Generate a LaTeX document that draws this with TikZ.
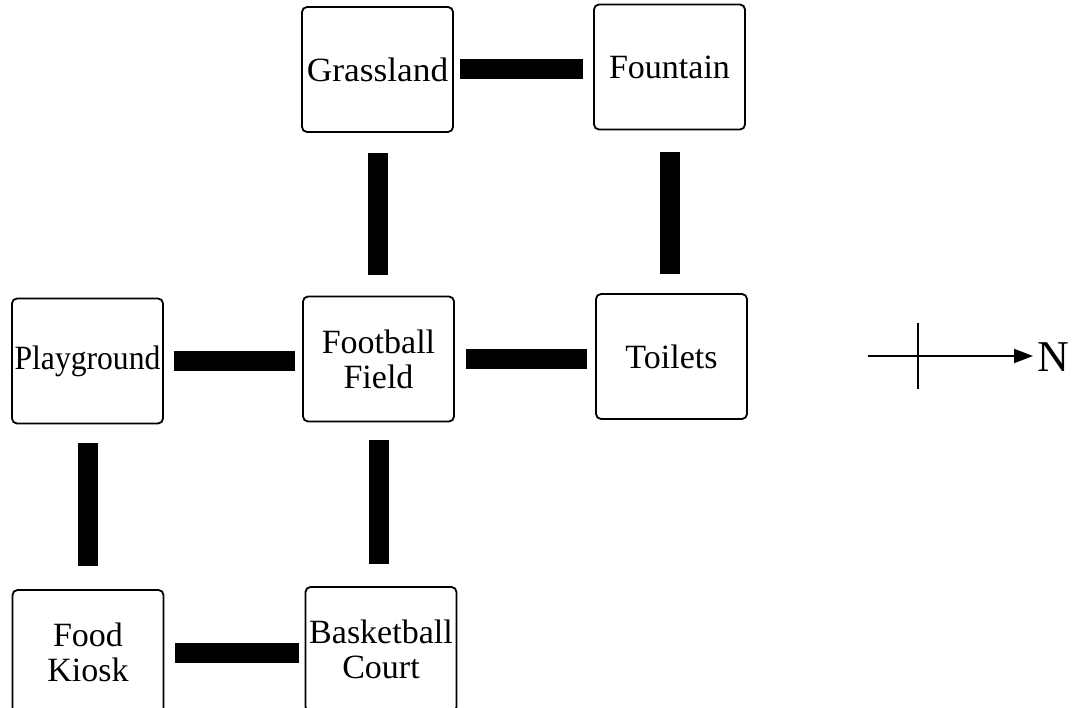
\documentclass[tikz,border=0pt]{standalone}
\usepackage{fontspec}
\setmainfont{Liberation Serif}
\usetikzlibrary{arrows.meta}
\tikzset{
  place/.style={draw, line width=1.8pt, rounded corners=5pt, minimum width=151pt, minimum height=125pt, inner sep=0pt, align=center, font=\fontsize{34}{35}\selectfont},
  bar/.style={line width=20pt},
  thin/.style={line width=2pt}
}
\begin{document}
\begin{tikzpicture}[x=1pt,y=-1pt]
\useasboundingbox (0,0) rectangle (1078,708);
\clip (0,0) rectangle (1078,708);
\node[place] (grass) at (377.5,69.5) {\scalebox{1.04}[1]{Grassland}};
\node[place] (fount) at (669.5,67) {Fountain};
\node[place] (play) at (87.5,361) {\scalebox{0.93}[1]{Playground}};
\node[place] (foot) at (378.5,359) {Football\\Field};
\node[place] (toil) at (671.5,356.5) {Toilets};
\node[place] (food) at (88,652.5) {Food\\Kiosk};
\node[place] (bask) at (381,649.5) {Basketball\\Court};
% connectors
\draw[bar, shorten <=6pt, shorten >=10pt] (grass.east) -- (grass.east -| fount.west);
\draw[bar, shorten <=20pt, shorten >=21pt] (grass.south) -- (grass.south |- foot.north);
\draw[bar, shorten <=22pt, shorten >=19pt] (fount.south) -- (fount.south |- toil.north);
\draw[bar, shorten <=10pt, shorten >=7pt] (play.east) -- (play.east -| foot.west);
\draw[bar, shorten <=11pt, shorten >=8pt] (foot.east) -- (foot.east -| toil.west);
\draw[bar, shorten <=19pt, shorten >=23pt] (play.south) -- (play.south |- food.north);
\draw[bar, shorten <=18pt, shorten >=22pt] (foot.south) -- (foot.south |- bask.north);
\draw[bar, shorten <=11pt, shorten >=6pt] (food.east) -- (food.east -| bask.west);
% compass
\coordinate (cw) at (868,356);
\coordinate (ce) at (1033,356);
\coordinate (ct) at (918,323);
\coordinate (cb) at (918,389);
\draw[thin, -{Triangle[length=19pt,width=14pt]}] (cw) -- (ce);
\draw[thin] (ct) -- (cb);
\node[font=\fontsize{44}{44}\selectfont, inner sep=0pt, anchor=west] (north) at (1037,357) {N};
\end{tikzpicture}
\end{document}
